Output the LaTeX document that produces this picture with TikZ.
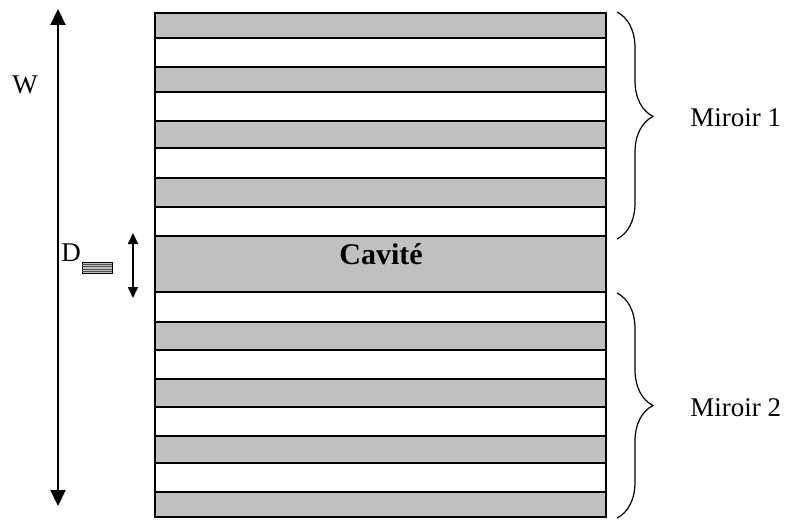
\documentclass[tikz,border=0pt]{standalone}
\usepackage{fontspec}
\setmainfont{Liberation Serif}
\usetikzlibrary{arrows.meta,decorations.pathreplacing}
\definecolor{layergrey}{RGB}{192,192,192}
\begin{document}
\begin{tikzpicture}[x=0.5pt,y=-0.5pt,
  layer/.style={draw,line width=1pt},
  txt/.style={font=\fontsize{13.5}{16}\selectfont,inner sep=0pt},
  mirbrace/.style={decorate,decoration={brace,amplitude=18pt},line width=0.6pt},
  >={Triangle[width=7.5pt,length=8pt]}]
\useasboundingbox (0,0) rectangle (786,519);
% couches du miroir 1, cavite, miroir 2
\foreach \ya/\yb/\col in {13/38/layergrey,38/67/white,67/92/layergrey,92/121/white,
  121/148/layergrey,148/178/white,178/207/layergrey,207/236/white,236/292/layergrey,
  292/322/white,322/350/layergrey,350/379/white,379/407/layergrey,407/436/white,
  436/463/layergrey,463/492/white,492/517/layergrey}
  \draw[layer,fill=\col] (155,\ya) rectangle (606,\yb);
\node[txt,font=\fontsize{15}{18}\selectfont\bfseries] (cav) at (381,254) {Cavité};
% fleche W
\coordinate (wtop) at (58,9);
\coordinate (wbot) at (58,506);
\draw[<->,line width=1.1pt] (wtop) -- (wbot);
\node[txt] (wlab) at (25,85) {W};
% fleche D
\coordinate (dtop) at (133,233);
\coordinate (dbot) at (133,298);
\draw[{Triangle[width=5pt,length=5.5pt]}-{Triangle[width=5pt,length=5.5pt]},line width=0.8pt] (dtop) -- (dbot);
\node[txt] (dlab) at (71,253) {D};
\draw[line width=0.4pt,fill=layergrey] (82,262) rectangle (112,273);
\foreach \y in {264,266.5,269,271.5}
  \draw[line width=0.5pt,black!70] (82,\y) -- (112,\y);
% accolades
\coordinate (m1a) at (617,12);
\coordinate (m1b) at (617,239);
\draw[mirbrace,decoration={aspect=0.46}] (m1a) -- (m1b);
\node[txt,anchor=west] (mir1) at (690,118) {Miroir 1};
\coordinate (m2a) at (617,293);
\coordinate (m2b) at (617,518);
\draw[mirbrace] (m2a) -- (m2b);
\node[txt,anchor=west] (mir2) at (690,408) {Miroir 2};
\end{tikzpicture}
\end{document}
